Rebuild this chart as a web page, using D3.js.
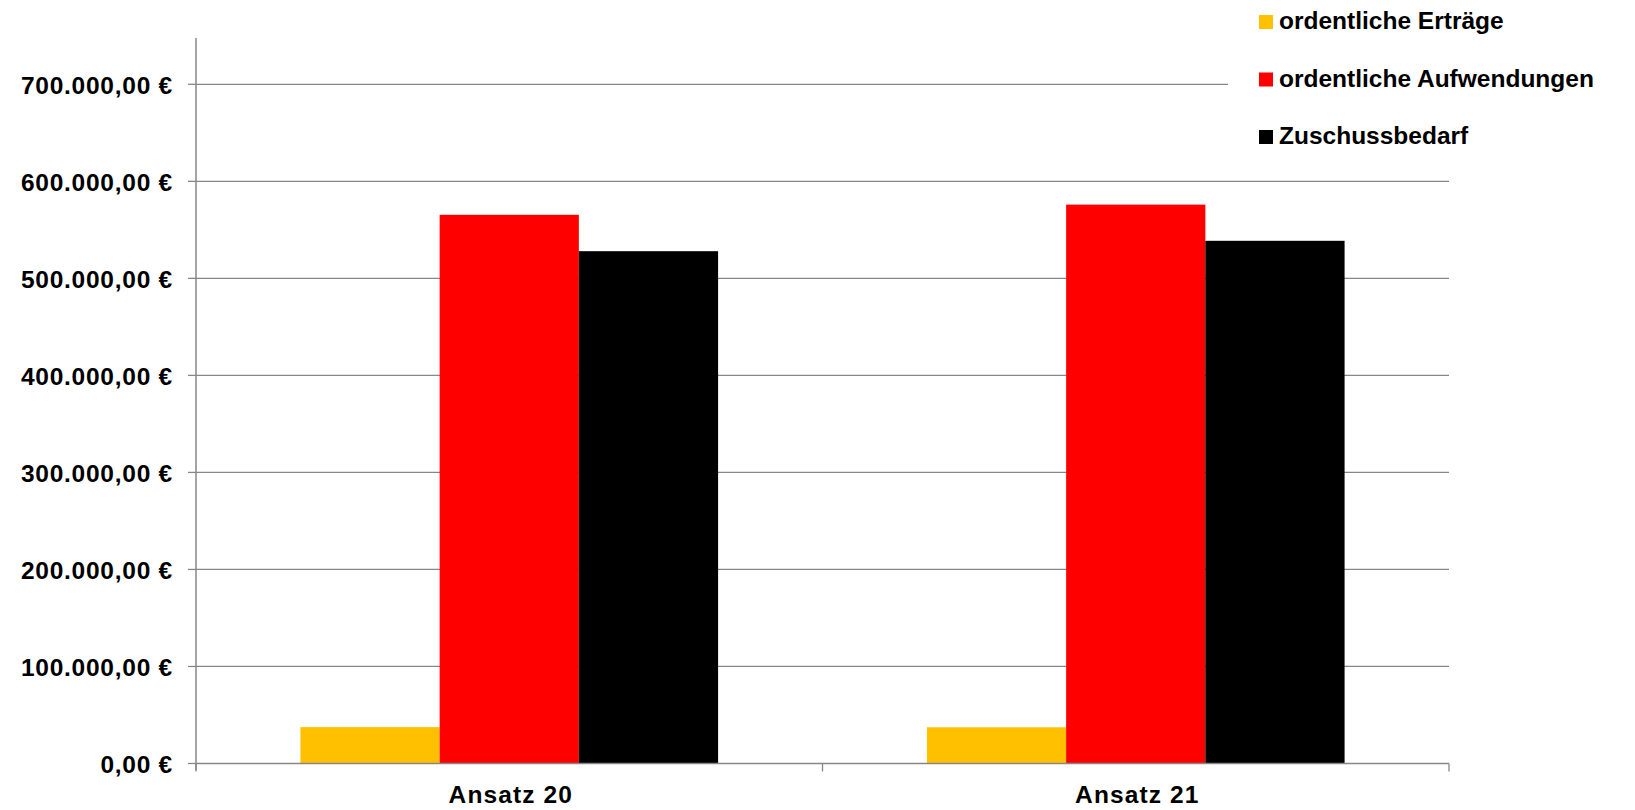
<!DOCTYPE html>
<html><head><meta charset="utf-8">
<script src="https://cdn.jsdelivr.net/npm/d3@7"></script>
<style>body{margin:0;background:#fff}svg{display:block}text{font-family:"Liberation Sans",Arial,sans-serif;font-weight:bold;fill:#000}</style>
</head><body>
<script>
const categories = ["Ansatz 20", "Ansatz 21"];
const seriesNames = ["ordentliche Erträge", "ordentliche Aufwendungen", "Zuschussbedarf"];
const seriesColors = ["#FFC000", "#FF0000", "#000000"];
const ertraege = [37500, 37300];
const aufwendungen = [565500, 576000];
const zuschuss = [528000, 538700];
const yTicks = [0, 100000, 200000, 300000, 400000, 500000, 600000, 700000];

const W = 1635, H = 810;
const svg = d3.select("body").append("svg").attr("width", W).attr("height", H);
const x0 = 196, x1 = 1449, yZero = 763.5, y700 = 84.3, yTop = 38;
const y = d3.scaleLinear().domain([0, 700000]).range([yZero, y700]);
const xb = d3.scaleBand().domain(categories).range([x0, x1]).paddingInner(0).paddingOuter(0);
const xs = d3.scaleBand().domain(seriesNames).range([0, xb.bandwidth()]).paddingOuter(0.75).paddingInner(0);
const gray = "#878787";

// gridlines
svg.append("g").selectAll("line").data(yTicks.filter(d => d > 0)).join("line")
  .attr("x1", x0).attr("x2", x1).attr("y1", d => y(d)).attr("y2", d => y(d))
  .attr("stroke", gray).attr("stroke-width", 1.3);

// bars
const series = [ertraege, aufwendungen, zuschuss];
const rows = [];
categories.forEach((c, i) => seriesNames.forEach((s, j) => rows.push({c, s, v: series[j][i], col: seriesColors[j]})));
svg.append("g").selectAll("rect").data(rows).join("rect")
  .attr("x", d => xb(d.c) + xs(d.s)).attr("width", xs.bandwidth())
  .attr("y", d => y(d.v)).attr("height", d => yZero - y(d.v))
  .attr("fill", d => d.col);

// y axis
svg.append("line").attr("x1", x0).attr("x2", x0).attr("y1", yTop).attr("y2", yZero + 7)
  .attr("stroke", gray).attr("stroke-width", 1.5);
const fmt = v => d3.format(",.2f")(v).replace(/,/g, "X").replace(".", ",").replace(/X/g, ".") + " €";
const yg = svg.append("g").selectAll("g").data(yTicks).join("g");
yg.append("line").attr("x1", x0 - 8).attr("x2", x0).attr("y1", d => y(d)).attr("y2", d => y(d))
  .attr("stroke", gray).attr("stroke-width", 1.3);
yg.append("text").attr("x", 173).attr("y", d => y(d) + 9.3).attr("text-anchor", "end")
  .attr("font-size", 24.5).attr("letter-spacing", 0.75).text(fmt);

// x axis
svg.append("line").attr("x1", x0).attr("x2", x1).attr("y1", yZero).attr("y2", yZero)
  .attr("stroke", gray).attr("stroke-width", 1.5);
const xt = [x0, ...categories.map(c => xb(c) + xb.bandwidth())];
svg.append("g").selectAll("line").data(xt).join("line")
  .attr("x1", d => d).attr("x2", d => d).attr("y1", yZero).attr("y2", yZero + 8)
  .attr("stroke", gray).attr("stroke-width", 1.3);
svg.append("g").selectAll("text").data(categories).join("text")
  .attr("x", d => xb(d) + xb.bandwidth() / 2 + 1.5).attr("y", 802.5).attr("text-anchor", "middle")
  .attr("font-size", 24.5).attr("letter-spacing", 1.1).text(d => d);

// legend
const lg = svg.append("g");
lg.append("rect").attr("x", 1228).attr("y", 0).attr("width", W - 1228).attr("height", 165).attr("fill", "#fff");
const li = lg.selectAll("g").data(seriesNames).join("g")
  .attr("transform", (d, i) => `translate(1259,${15 + i * 57.5})`);
li.append("rect").attr("width", 14).attr("height", 14).attr("fill", (d, i) => seriesColors[i]);
li.append("text").attr("x", 20).attr("y", 14).attr("font-size", 24.5).text(d => d);
</script>
</body></html>
